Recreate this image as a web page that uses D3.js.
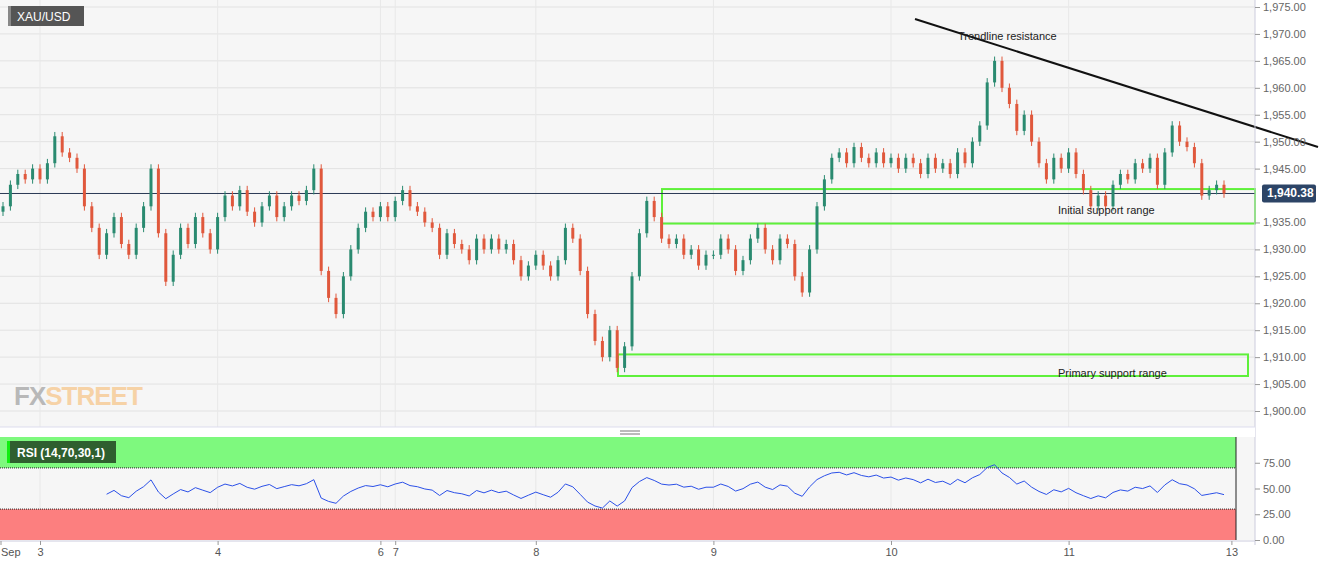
<!DOCTYPE html>
<html><head><meta charset="utf-8">
<script src="https://cdn.jsdelivr.net/npm/d3@7"></script>
<style>body{margin:0;background:#fff;font-family:"Liberation Sans",Arial,sans-serif}</style>
</head><body><svg id="c" width="1331" height="567"></svg>
<script>
// closes per session
const pre = [1938,1942,1944,1943,1945];
const sep3 = [1943,1946,1951,1948,1947,1945,1938,1934,1929,1933,1936,1931,1929,1934,1938,1945,1933,1924,1929,1934,1931,1936,1933,1930];
const sep4 = [1936,1940,1938,1941,1937,1935,1938,1940,1936,1938,1940,1939,1941,1945,1926,1921,1918,1925,1930,1934,1937,1936];
const sep6 = [1938,1936];
const sep7 = [1939,1941,1938,1937,1935,1934,1929,1933,1931,1930,1928,1932,1930,1932,1930,1931,1928,1925,1927];
const sep8 = [1929,1927,1925,1928,1934,1932,1926,1918,1913,1910,1915,1908,1912,1925,1933,1939,1936,1932,1931,1932,1929,1930,1927,1929];
const sep9 = [1929,1932,1930,1926,1928,1932,1934,1930,1928,1932,1931,1925,1922,1930,1938,1943,1947,1948,1946,1949,1947,1946,1948,1946];
const sep10 = [1947,1945,1947,1946,1944,1947,1945,1946,1944,1948,1946,1950,1953,1961,1965,1960,1957,1952,1955,1950,1946,1943,1947,1945];
const sep11 = [1948,1944,1941,1938,1940,1938,1942,1944,1943,1946,1945,1947,1942,1948,1953,1950,1949,1946,1940,1941,1942,1940.38];
const sessions = [pre,sep3,sep4,sep6,sep7,sep8,sep9,sep10,sep11];
const dayLabels = ["Sep","3","4","6","7","8","9","10","11","13"];
const priceTicks = [1900,1905,1910,1915,1920,1925,1930,1935,1945,1950,1955,1960,1965,1970,1975];
const rsiTicks = [0,25,50,75];
const lastPrice = 1940.38;

const closes = sessions.flat();
const N = closes.length;
const candles = closes.map((c,i)=>{
  const o = i===0 ? 1937 : closes[i-1];
  return {i,o,c,h:Math.max(o,c)+0.8,l:Math.min(o,c)-0.8};
});
// tick indices at session starts
const tickIdx=[0]; let acc=0; sessions.forEach(s=>{acc+=s.length;tickIdx.push(acc);});
tickIdx[0]=-5.4;

// RSI 14
const rsi=[]; let ag=0,al=0;
for(let i=1;i<N;i++){const d=closes[i]-closes[i-1];const g=Math.max(d,0),l=Math.max(-d,0);
  if(i<=14){ag+=g/14;al+=l/14;} else {ag=(ag*13+g)/14;al=(al*13+l)/14;}
  if(i>=14) rsi.push({i,v: al===0?100:100-100/(1+ag/al)});
}

const svg=d3.select("#c");
const x=d3.scaleLinear().domain([0,N]).range([3,3+N*7.4]);
const y=d3.scaleLinear().domain([1900,1975]).range([411,7]);
const yr=d3.scaleLinear().domain([0,100]).range([540,437]);
const R=1255;

svg.append("rect").attr("x",0).attr("y",0).attr("width",R).attr("height",427).attr("fill","#f6f6f6");
svg.append("rect").attr("x",0).attr("y",437).attr("width",R).attr("height",103).attr("fill","#f6f6f6");
svg.append("g").selectAll("line").data(priceTicks).join("line")
  .attr("x1",0).attr("x2",R).attr("y1",d=>y(d)).attr("y2",d=>y(d)).attr("stroke","#e2e2e2");
svg.append("g").selectAll("line").data(tickIdx.slice(1,-1)).join("line")
  .attr("x1",d=>x(d)).attr("x2",d=>x(d)).attr("y1",0).attr("y2",540).attr("stroke","#e8e8e8");

// watermark
const wm=svg.append("text").attr("x",14).attr("y",405).attr("font-size",26).attr("font-weight","bold").attr("letter-spacing",-1);
wm.append("tspan").text("FX").attr("fill","#b8b8b8");
wm.append("tspan").text("STREET").attr("fill","#f6d2a6");

// support zones
svg.append("rect").attr("x",662).attr("y",y(1941.2)).attr("width",R-662).attr("height",y(1934.8)-y(1941.2))
  .attr("fill","none").attr("stroke","#5ef03a").attr("stroke-width",2);
svg.append("rect").attr("x",618).attr("y",y(1910.5)).attr("width",630).attr("height",y(1906.5)-y(1910.5))
  .attr("fill","none").attr("stroke","#5ef03a").attr("stroke-width",2);
svg.append("line").attr("x1",0).attr("x2",R).attr("y1",y(lastPrice)).attr("y2",y(lastPrice)).attr("stroke","#2b3a55");

// candles
const g=svg.append("g");
g.selectAll("line").data(candles).join("line")
  .attr("x1",d=>x(d.i)).attr("x2",d=>x(d.i)).attr("y1",d=>y(d.h)).attr("y2",d=>y(d.l))
  .attr("stroke",d=>d.c>=d.o?"#2a8a70":"#e0583c");
g.selectAll("rect").data(candles).join("rect")
  .attr("x",d=>x(d.i)-1.5).attr("width",3)
  .attr("y",d=>y(Math.max(d.o,d.c))).attr("height",d=>Math.max(1,Math.abs(y(d.o)-y(d.c))))
  .attr("fill",d=>d.c>=d.o?"#2a8a70":"#e0583c");

// trendline
svg.append("line").attr("x1",915).attr("y1",19).attr("x2",1318).attr("y2",147).attr("stroke","#111").attr("stroke-width",2);
const ann=[["Trendline resistance",958,40],["Initial support range",1058,214],["Primary support range",1058,377]];
svg.selectAll(".ann").data(ann).join("text").attr("x",d=>d[1]).attr("y",d=>d[2]).text(d=>d[0])
  .attr("font-size",11).attr("fill","#222");

// title
svg.append("rect").attr("x",8).attr("y",6).attr("width",76).attr("height",20).attr("fill","#555");
svg.append("rect").attr("x",8).attr("y",6).attr("width",3).attr("height",20).attr("fill","#888");
svg.append("text").attr("x",17).attr("y",21).text("XAU/USD").attr("fill","#fff").attr("font-size",12);

// right axis
svg.append("line").attr("x1",R).attr("x2",R).attr("y1",0).attr("y2",545).attr("stroke","#ccd");
const ya=svg.append("g").attr("transform",`translate(${R},0)`)
  .call(d3.axisRight(y).tickValues(priceTicks).tickFormat(d3.format(",.2f")).tickSize(5));
const yb=svg.append("g").attr("transform",`translate(${R},0)`)
  .call(d3.axisRight(yr).tickValues(rsiTicks).tickFormat(d3.format(".2f")).tickSize(5));
[ya,yb].forEach(a=>{a.select(".domain").remove();a.selectAll("line").attr("stroke","#999");
  a.selectAll("text").attr("fill","#666").attr("font-size",11).attr("font-family","Liberation Sans, Arial");});
svg.append("rect").attr("x",1262).attr("y",y(lastPrice)-9).attr("width",54).attr("height",18).attr("rx",2).attr("fill","#2c4466");
svg.append("text").attr("x",1267).attr("y",y(lastPrice)+4).text("1,940.38").attr("fill","#fff").attr("font-size",12).attr("font-weight","bold");

// separator
svg.append("rect").attr("x",0).attr("y",427).attr("width",R).attr("height",10).attr("fill","#fff");
svg.append("line").attr("x1",0).attr("x2",R).attr("y1",427).attr("y2",427).attr("stroke","#dde");
[431,434].forEach(v=>svg.append("line").attr("x1",620).attr("x2",640).attr("y1",v).attr("y2",v).attr("stroke","#777"));

// RSI panel
svg.append("rect").attr("x",0).attr("y",yr(100)).attr("width",1236).attr("height",yr(70)-yr(100)).attr("fill","#7ef97e");
svg.append("rect").attr("x",0).attr("y",yr(30)).attr("width",1236).attr("height",yr(0)-yr(30)).attr("fill","#fc7f7f");
[70,30].forEach(v=>svg.append("line").attr("x1",0).attr("x2",1236).attr("y1",yr(v)).attr("y2",yr(v)).attr("stroke","#222").attr("stroke-dasharray","1,1"));
svg.append("line").attr("x1",1236).attr("x2",1236).attr("y1",437).attr("y2",540).attr("stroke","#222");
svg.append("path").datum(rsi).attr("fill","none").attr("stroke","#2b50e8").attr("stroke-width",1)
  .attr("d",d3.line().x(d=>x(d.i)).y(d=>yr(d.v)));
svg.append("rect").attr("x",7).attr("y",441).attr("width",109).attr("height",22).attr("fill","#2f5f2f");
svg.append("rect").attr("x",7).attr("y",441).attr("width",3).attr("height",22).attr("fill","#11ee11");
svg.append("text").attr("x",17).attr("y",457).text("RSI (14,70,30,1)").attr("fill","#fff").attr("font-size",12).attr("font-weight","bold");

// date axis
svg.append("line").attr("x1",0).attr("x2",R).attr("y1",541).attr("y2",541).attr("stroke","#ccd");
const xa=svg.append("g").attr("transform","translate(0,541)")
  .call(d3.axisBottom(x).tickValues(tickIdx).tickFormat((d,i)=>dayLabels[i]).tickSize(4));
xa.select(".domain").remove();
xa.selectAll("line").attr("stroke","#999");
xa.selectAll("text").attr("fill","#555").attr("font-size",11).attr("font-family","Liberation Sans, Arial");
xa.selectAll(".tick").filter((d,i)=>i===0).attr("transform","translate(1,0)").select("text").attr("text-anchor","start");
</script></body></html>
